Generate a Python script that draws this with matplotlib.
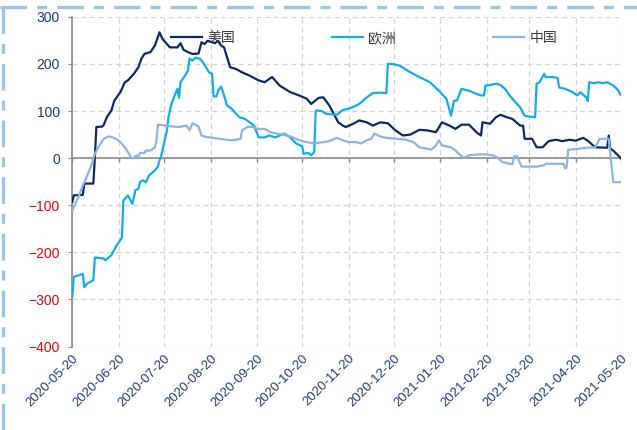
import matplotlib
matplotlib.use("Agg")
import matplotlib.pyplot as plt
import pandas as pd
from matplotlib.lines import Line2D

# --- data ---
us_dates = ["2020-05-20", "2020-05-21", "2020-05-27", "2020-05-28", "2020-06-03", "2020-06-04",
            "2020-06-05", "2020-06-09", "2020-06-10", "2020-06-12", "2020-06-15", "2020-06-17",
            "2020-06-21", "2020-06-24", "2020-06-26", "2020-06-30", "2020-07-03", "2020-07-05",
            "2020-07-07", "2020-07-11", "2020-07-14", "2020-07-17", "2020-07-19", "2020-07-22",
            "2020-07-24", "2020-07-29", "2020-07-31", "2020-08-02", "2020-08-05", "2020-08-08",
            "2020-08-12", "2020-08-14", "2020-08-16", "2020-08-18", "2020-08-21", "2020-08-23",
            "2020-08-25", "2020-08-27", "2020-08-29", "2020-09-02", "2020-09-06", "2020-09-10",
            "2020-09-15", "2020-09-21", "2020-09-25", "2020-09-28", "2020-09-30", "2020-10-05",
            "2020-10-12", "2020-10-18", "2020-10-23", "2020-10-26", "2020-10-31", "2020-11-03",
            "2020-11-07", "2020-11-13", "2020-11-16", "2020-11-18", "2020-11-23", "2020-11-27",
            "2020-12-02", "2020-12-06", "2020-12-11", "2020-12-16", "2020-12-21", "2020-12-26",
            "2020-12-31", "2021-01-06", "2021-01-11", "2021-01-17", "2021-01-21", "2021-01-26",
            "2021-01-30", "2021-02-03", "2021-02-08", "2021-02-13", "2021-02-16", "2021-02-17",
            "2021-02-22", "2021-02-26", "2021-03-01", "2021-03-05", "2021-03-09", "2021-03-14",
            "2021-03-16", "2021-03-17", "2021-03-22", "2021-03-25", "2021-03-29", "2021-04-02",
            "2021-04-07", "2021-04-11", "2021-04-16", "2021-04-20", "2021-04-25", "2021-04-28",
            "2021-05-03", "2021-05-11", "2021-05-12", "2021-05-13", "2021-05-15", "2021-05-20"]
us_values = [-93, -79, -78, -54, -54, 0,
             66, 67, 71, 87, 101, 122,
             140, 161, 165, 179, 193, 211,
             221, 225, 239, 267, 253, 242,
             235, 235, 244, 230, 225, 221,
             222, 246, 242, 249, 246, 244,
             249, 239, 235, 193, 189, 182,
             175, 165, 161, 168, 172, 154,
             140, 133, 126, 115, 128, 129,
             112, 76, 69, 66, 73, 80,
             76, 69, 76, 74, 59, 48,
             50, 60, 59, 55, 76, 69,
             62, 71, 71, 55, 48, 76,
             73, 87, 92, 87, 83, 69,
             69, 41, 41, 23, 23, 36,
             39, 36, 39, 37, 43, 37,
             23, 22, 48, 20, 16, 0]

eu_dates = ["2020-05-20", "2020-05-21", "2020-05-27", "2020-05-28", "2020-05-30", "2020-06-03",
            "2020-06-04", "2020-06-10", "2020-06-11", "2020-06-15", "2020-06-18", "2020-06-22",
            "2020-06-23", "2020-06-26", "2020-06-29", "2020-07-01", "2020-07-03", "2020-07-04",
            "2020-07-06", "2020-07-08", "2020-07-10", "2020-07-14", "2020-07-16", "2020-07-17",
            "2020-07-18", "2020-07-22", "2020-07-23", "2020-07-25", "2020-07-28", "2020-07-29",
            "2020-07-30", "2020-07-31", "2020-08-03", "2020-08-05", "2020-08-06", "2020-08-08",
            "2020-08-10", "2020-08-13", "2020-08-15", "2020-08-19", "2020-08-21", "2020-08-22",
            "2020-08-24", "2020-08-25", "2020-08-27", "2020-08-28", "2020-08-31", "2020-09-03",
            "2020-09-06", "2020-09-08", "2020-09-12", "2020-09-15", "2020-09-18", "2020-09-21",
            "2020-09-25", "2020-09-28", "2020-10-02", "2020-10-05", "2020-10-08", "2020-10-12",
            "2020-10-16", "2020-10-20", "2020-10-21", "2020-10-24", "2020-10-26", "2020-10-28",
            "2020-10-29", "2020-11-02", "2020-11-05", "2020-11-12", "2020-11-16", "2020-11-20",
            "2020-11-24", "2020-11-27", "2020-12-02", "2020-12-06", "2020-12-11", "2020-12-15",
            "2020-12-16", "2020-12-19", "2020-12-24", "2020-12-30", "2021-01-06", "2021-01-13",
            "2021-01-19", "2021-01-24", "2021-01-27", "2021-01-29", "2021-01-31", "2021-02-03",
            "2021-02-08", "2021-02-14", "2021-02-16", "2021-02-18", "2021-02-19", "2021-02-22",
            "2021-02-26", "2021-03-01", "2021-03-04", "2021-03-07", "2021-03-10", "2021-03-14",
            "2021-03-17", "2021-03-20", "2021-03-24", "2021-03-25", "2021-03-27", "2021-03-30",
            "2021-03-31", "2021-04-05", "2021-04-08", "2021-04-09", "2021-04-13", "2021-04-18",
            "2021-04-21", "2021-04-23", "2021-04-27", "2021-04-28", "2021-04-29", "2021-05-02",
            "2021-05-05", "2021-05-08", "2021-05-11", "2021-05-15", "2021-05-18", "2021-05-20"]
eu_values = [-294, -252, -246, -274, -266, -259,
             -211, -213, -217, -206, -188, -169,
             -90, -79, -97, -68, -65, -51,
             -47, -51, -37, -26, -18, -5,
             2, 59, 87, 115, 140, 147,
             128, 161, 175, 186, 211, 207,
             213, 211, 203, 182, 179, 131,
             131, 143, 152, 143, 112, 105,
             94, 87, 83, 76, 69, 44,
             44, 48, 44, 48, 52, 44,
             31, 25, 9, 11, 6, 13,
             101, 100, 94, 92, 102, 105,
             110, 115, 129, 138, 139, 138,
             200, 200, 196, 184, 172, 161,
             143, 126, 90, 122, 122, 147,
             143, 135, 133, 133, 154, 155,
             158, 155, 147, 133, 122, 108,
             90, 88, 87, 158, 161, 179,
             172, 172, 170, 150, 147, 140,
             133, 140, 129, 121, 161, 159,
             161, 159, 161, 154, 145, 134]

cn_dates = ["2020-05-20", "2020-05-24", "2020-05-27", "2020-05-30", "2020-06-02", "2020-06-04",
            "2020-06-07", "2020-06-10", "2020-06-13", "2020-06-15", "2020-06-18", "2020-06-21",
            "2020-06-24", "2020-06-26", "2020-06-28", "2020-06-29", "2020-07-02", "2020-07-03",
            "2020-07-04", "2020-07-07", "2020-07-08", "2020-07-11", "2020-07-14", "2020-07-15",
            "2020-07-16", "2020-07-21", "2020-07-26", "2020-07-30", "2020-08-04", "2020-08-06",
            "2020-08-08", "2020-08-12", "2020-08-14", "2020-08-17", "2020-08-26", "2020-09-02",
            "2020-09-06", "2020-09-09", "2020-09-10", "2020-09-14", "2020-09-17", "2020-09-20",
            "2020-09-25", "2020-09-29", "2020-10-03", "2020-10-07", "2020-10-13", "2020-10-18",
            "2020-10-23", "2020-10-28", "2020-11-03", "2020-11-07", "2020-11-12", "2020-11-16",
            "2020-11-20", "2020-11-25", "2020-11-28", "2020-12-02", "2020-12-05", "2020-12-07",
            "2020-12-11", "2020-12-15", "2020-12-22", "2020-12-28", "2021-01-02", "2021-01-06",
            "2021-01-11", "2021-01-14", "2021-01-17", "2021-01-19", "2021-01-21", "2021-01-27",
            "2021-01-30", "2021-02-03", "2021-02-05", "2021-02-08", "2021-02-15", "2021-02-19",
            "2021-02-24", "2021-02-27", "2021-03-02", "2021-03-07", "2021-03-09", "2021-03-10",
            "2021-03-12", "2021-03-15", "2021-03-25", "2021-03-30", "2021-03-31", "2021-04-12",
            "2021-04-13", "2021-04-14", "2021-04-15", "2021-04-20", "2021-04-27", "2021-05-03",
            "2021-05-06", "2021-05-12", "2021-05-15", "2021-05-20"]
cn_values = [-111, -83, -58, -37, -12, 9,
             27, 41, 46, 45, 41, 34,
             23, 13, 2, -1, 6, 2,
             11, 11, 16, 16, 23, 38,
             71, 69, 67, 66, 69, 59,
             74, 67, 48, 45, 41, 38,
             39, 41, 59, 67, 66, 62,
             62, 55, 52, 50, 45, 38,
             34, 31, 34, 36, 43, 38,
             34, 34, 31, 38, 41, 52,
             46, 43, 41, 39, 34, 23,
             20, 18, 27, 38, 27, 23,
             16, 4, 1, 6, 8, 8,
             6, 1, -8, -12, -13, 4,
             4, -18, -18, -15, -12, -12,
             -22, -20, 18, 19, 22, 23,
             41, 41, -51, -51]

series_names = ["美国", "欧洲", "中国"]
series_colors = ["#0b2a62", "#14aee6", "#8eb4e0"]

tick_dates = ["2020-05-20", "2020-06-20", "2020-07-20", "2020-08-20", "2020-09-20",
              "2020-10-20", "2020-11-20", "2020-12-20", "2021-01-20", "2021-02-20",
              "2021-03-20", "2021-04-20", "2021-05-20"]
y_ticks = [-400, -300, -200, -100, 0, 100, 200, 300]

NAVY = "#1f3c6e"
RED = "#e60012"
GRID = "#d4d4d4"
AXIS = "#8c8c8c"

fig = plt.figure(figsize=(6.37, 4.30), dpi=100)
ax = fig.add_axes([0.1135, 0.194, 0.861, 0.767])

ticks = pd.to_datetime(tick_dates)
for dates, vals, name, col in zip([us_dates, eu_dates, cn_dates],
                                  [us_values, eu_values, cn_values],
                                  series_names, series_colors):
    ax.plot(pd.to_datetime(dates), vals, color=col, lw=1.6, label=name, zorder=3)

ax.set_xlim(ticks[0], ticks[-1])
ax.set_ylim(-400, 300)
ax.set_yticks(y_ticks)
ax.set_xticks(ticks)
ax.set_xticklabels(tick_dates, rotation=45, ha="right", rotation_mode="anchor",
                   fontsize=9.5, color=NAVY, family="Liberation Sans")
ax.set_yticklabels([str(v).replace("-", "\u2212") for v in y_ticks],
                   fontsize=10, family="Liberation Sans")
for lab, v in zip(ax.get_yticklabels(), y_ticks):
    lab.set_color(RED if v < 0 else NAVY)

ax.grid(True, color=GRID, ls=(0, (4, 3)), lw=0.9, zorder=0)
for side in ["top", "right", "bottom"]:
    ax.spines[side].set_visible(False)
ax.spines["left"].set_color(AXIS)
ax.spines["left"].set_linewidth(1.2)
ax.tick_params(axis="x", length=0, pad=4)
ax.tick_params(axis="y", length=3, color=AXIS, pad=6)

# zero line acts as the x axis, with small month tick marks below it
ax.axhline(0, color=AXIS, lw=1.2, zorder=2)
ax.vlines(ticks, -9, 0, color=AXIS, lw=1.0, zorder=2)

ax.legend(loc="center", bbox_to_anchor=(0.532, 0.935), ncol=3, frameon=False,
          handlelength=2.2, handletextpad=0.4, columnspacing=7.0,
          prop={"family": ["Noto Sans CJK SC", "DejaVu Sans"], "size": 10},
          labelcolor="#3a3a3a")

# dashed frame of the source image
frame = dict(color="#9dc3e6", lw=2.4, ls=(0, (8, 3, 3, 3)), transform=fig.transFigure)
fig.add_artist(Line2D([0, 1], [0.9845, 0.9845], **frame))
fig.add_artist(Line2D([0.004, 0.004], [0, 1], **frame))

fig.savefig("out.png", dpi=100)
